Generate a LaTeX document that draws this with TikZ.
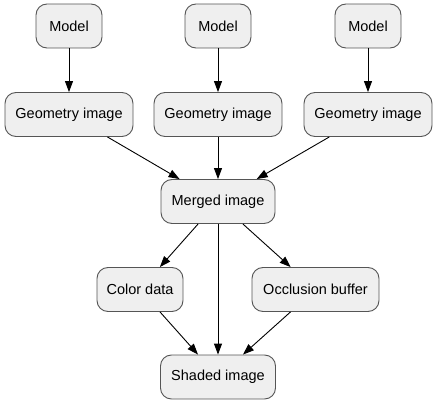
\documentclass[tikz,border=0pt]{standalone}
\usepackage{fontspec}
\setmainfont{Liberation Sans}
\usetikzlibrary{arrows.meta}
\definecolor{nodefill}{HTML}{EFEFEF}
\definecolor{nodedraw}{HTML}{555555}
\begin{document}
\begin{tikzpicture}[x=1pt,y=-1pt,
  box/.style={draw=nodedraw, fill=nodefill, rounded corners=11pt, line width=0.9pt,
    minimum height=44pt, inner sep=0pt, font=\fontsize{14.5}{17}\selectfont},
  conn/.style={-{Triangle[length=11pt,width=8pt]}, line width=0.9pt, black}]
\useasboundingbox (0,0) rectangle (437,404);
\node[box, minimum width=66pt] (m1) at (69,26) {Model};
\node[box, minimum width=66pt] (m2) at (218,26) {Model};
\node[box, minimum width=66pt] (m3) at (368,26) {Model};
\node[box, minimum width=128pt] (g1) at (69,114.5) {Geometry image};
\node[box, minimum width=128pt] (g2) at (218,114.5) {Geometry image};
\node[box, minimum width=128pt] (g3) at (368,114.5) {Geometry image};
\node[box, minimum width=114pt] (mi) at (218,201.5) {Merged image};
\node[box, minimum width=86pt] (cd) at (140,289.5) {Color data};
\node[box, minimum width=127pt] (ob) at (315.5,289.5) {Occlusion buffer};
\node[box, minimum width=115pt] (si) at (218,377) {Shaded image};
\draw[conn] (m1) -- (g1);
\draw[conn] (m2) -- (g2);
\draw[conn] (m3) -- (g3);
\draw[conn] (g1) -- (mi);
\draw[conn] (g2) -- (mi);
\draw[conn] (g3) -- (mi);
\draw[conn] (mi) -- (cd);
\draw[conn] (mi) -- (ob);
\draw[conn] (mi) -- (si);
\draw[conn] (cd) -- (si);
\draw[conn] (ob) -- (si);
\end{tikzpicture}
\end{document}
